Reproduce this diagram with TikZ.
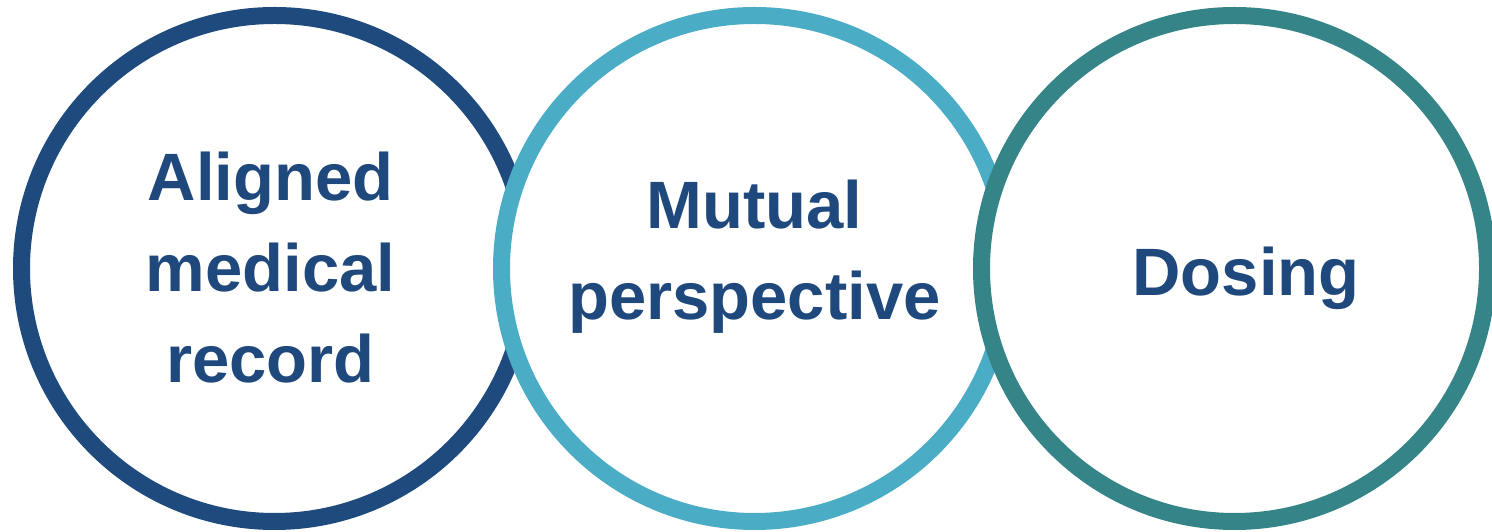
\documentclass[tikz,border=0pt]{standalone}
\usepackage{fontspec}
\setmainfont{Liberation Sans}
\usepackage{tikz}
\usetikzlibrary{positioning}
\usepackage{xcolor}
\definecolor{ringnavy}{HTML}{1F4A7E}
\definecolor{ringaqua}{HTML}{4BACC6}
\definecolor{ringteal}{HTML}{358487}
\definecolor{labelnavy}{HTML}{1F497D}

\begin{document}
\begin{tikzpicture}[
  x=1pt, y=1pt,
  ring/.style={circle, draw=#1, line width=17pt, fill=white, minimum size=506pt, inner sep=0pt},
  lbl/.style={align=center, text=labelnavy, font=\fontsize{67}{91}\selectfont\bfseries}
]
\useasboundingbox (0,0) rectangle (1492,532);
% later circles sit on top of the earlier ones
\node[ring=ringnavy] (c1) at (274.5,263.5) {};
\node[ring=ringaqua] (c2) at (754.5,263.5) {};
\node[ring=ringteal] (c3) at (1234.5,263.5) {};
\node[lbl] (t1) at ([xshift=-4pt, yshift=1pt]c1) {Aligned\\medical\\record};
\node[lbl] (t2) at ([yshift=12pt]c2) {Mutual\\perspective};
\node[lbl] (t3) at ([xshift=11.5pt, yshift=-10pt]c3) {Dosing};
\end{tikzpicture}
\end{document}
